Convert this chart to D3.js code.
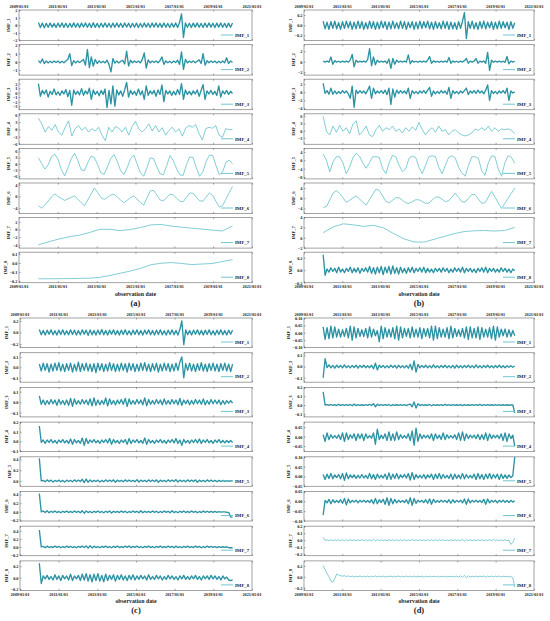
<!DOCTYPE html>
<html>
<head>
<meta charset="utf-8">
<script src="https://cdn.jsdelivr.net/npm/d3@7"></script>
<style>
  body { margin: 0; background: #fff; }
  text { font-family: "Liberation Serif", "Times New Roman", serif; font-weight: bold; fill: #222; }
</style>
</head>
<body>
<div id="chart"></div>
<script>
// x axis: date range of the decomposed series and the date ticks
const dataStart = new Date(2010, 0, 1);
const dataEnd = new Date(2019, 11, 31);
const axisYears = [2009, 2011, 2013, 2015, 2017, 2019, 2021];
const imfNames = ["IMF_1", "IMF_2", "IMF_3", "IMF_4", "IMF_5", "IMF_6", "IMF_7", "IMF_8"];
const panelTags = ["(a)", "(b)", "(c)", "(d)"];

// ---- panel (a) ----
const a1 = [0.35,-0.3,0.28,-0.32,0.25,-0.27,0.3,-0.25,0.22,-0.3,0.27,-0.24,0.3,-0.28,0.26,-0.3,0.24,-0.26,0.31,-0.27,0.25,-0.3,0.28,-0.23,0.3,-0.27,0.26,-0.3,0.33,-0.28,0.25,-0.3,0.27,-0.25,0.3,-0.26,0.24,-0.3,0.28,-0.27,0.3,-0.25,0.26,-0.28,0.3,-0.24,0.27,-0.3,0.25,-0.26,0.28,-0.3,0.24,-0.27,0.3,-0.25,0.26,-0.3,0.28,-0.24,0.3,-0.27,0.25,-0.28,0.3,-0.26,0.24,-0.3,0.27,-0.25,0.3,-0.28,0.35,1.5,-1.6,0.3,-0.27,0.26,-0.3,0.28,-0.25,0.3,-0.26,0.24,-0.3,0.28,-0.27,0.3,-0.25,0.26,-0.3,0.28,-0.24,0.3,-0.27,0.25,-0.3,0.28,-0.26,0.3];
const a2 = [0.15,-0.12,0.35,-0.2,0.1,-0.12,0.08,-0.1,0.12,-0.08,0.1,-0.12,0.08,-0.1,0.12,0.3,1.0,-0.45,0.15,-0.12,0.1,-0.08,0.12,0.3,-0.4,1.5,-0.7,0.6,-0.5,0.3,-0.2,0.12,-0.1,0.08,-0.12,0.2,-0.3,-1.2,0.4,-0.15,0.1,-0.12,0.08,0.2,-0.25,1.3,-0.5,0.2,-0.1,0.12,-0.08,0.1,-0.12,0.3,1.1,-0.75,0.25,-0.12,0.1,-0.08,0.12,-0.1,0.15,0.6,-0.3,0.12,-0.1,0.08,-0.12,0.1,-0.08,0.2,-0.3,1.2,-0.9,0.3,-0.12,0.1,-0.08,0.12,-0.1,0.08,0.25,-0.2,1.0,-0.4,0.15,-0.1,0.12,-0.08,0.1,-0.12,0.08,-0.1,0.12,-0.1,0.5,-0.2,0.1,-0.08];
const a3 = [2.0,-0.8,0.5,-0.3,0.6,-1.0,0.3,-0.4,0.8,-0.5,0.2,-0.6,0.4,-0.3,0.7,-0.9,0.5,-2.8,0.6,-0.4,0.3,-0.5,0.9,-0.6,0.4,-0.3,1.0,-1.5,0.6,-0.4,0.3,-0.7,0.5,-0.4,0.8,-3.3,0.5,-2.5,1.5,-3.0,0.6,-0.5,0.4,-0.8,0.6,2.3,-1.0,0.5,-0.4,0.3,-0.6,0.8,-0.5,0.4,-1.5,1.5,-0.6,0.4,-0.3,0.5,-0.8,0.6,-0.4,1.7,-2.0,0.5,-0.3,0.4,-0.6,0.3,-0.5,0.7,-0.4,2.0,-1.5,0.6,-0.4,0.3,-0.5,0.4,-0.3,0.6,-0.8,0.5,1.8,-1.5,0.4,-0.3,0.5,-0.4,0.3,-0.6,1.5,-1.0,0.4,-0.3,0.5,-0.4,0.3,-0.2];
const a4 = [4.7,2.3,-1.1,1.2,-0.4,2.0,-1.1,-2.4,0.9,3.6,-2.8,0.3,1.6,-0.4,0.9,-1.1,0.3,-0.7,0.9,-2.4,-4.7,0.9,-1.1,1.2,0.5,-1.1,0.9,-2.4,1.2,3.3,0.3,-1.1,0.3,2.3,-0.7,1.6,-1.1,0.7,-2.4,-0.4,0.9,-1.1,0.3,-2.8,0.5,1.6,0.9,2.0,-1.7,-4.4,0.3,0.9,0.5,1.6,-2.4,-3.3,0.3,-0.1,-0.1];
const a5 = [2.9,0.0,-2.7,-0.5,3.5,4.7,2.0,-3.0,-6.0,-2.0,2.5,5.1,1.5,-3.0,-3.5,0.5,3.7,3.0,-0.5,-4.5,-5.3,-1.5,2.5,4.5,1.0,-3.5,-5.4,-2.0,2.5,4.2,0.0,-4.5,-6.2,-2.0,2.9,2.5,-1.5,-5.0,-5.5,-1.0,4.0,1.5,-2.5,-5.5,-5.8,-0.5,3.3,3.0,-2.0,-6.2,-4.0,1.0,4.2,4.0,-1.0,-5.5,-4.0,0.5,1.8,0.0];
const a6 = [-3.2,-3.9,-2.9,-1.5,-0.1,0.85,0.0,-0.7,-1.35,-0.8,-0.3,0.2,-0.9,-2.1,-3.2,-1.2,0.8,2.9,1.4,-0.3,-1.0,-0.3,0.5,0.7,-0.2,-1.2,-2.1,-1.3,-0.4,0.2,-0.9,-2.1,-2.95,-0.5,1.9,2.1,0.5,-1.2,-1.5,-0.4,0.8,0.5,-0.6,-1.6,-1.8,-0.3,1.2,1.05,-0.2,-1.5,-1.6,-0.2,1.2,0.3,-1.7,-3.6,-3.1,-0.9,1.3,3.4];
const a7 = [-4.0,-3.2,-2.5,-1.9,-1.5,-0.8,0.05,0.05,-0.3,0.0,0.5,1.2,1.3,0.9,0.6,0.35,0.1,-0.15,-0.4,0.9];
const a8 = [-0.177,-0.176,-0.175,-0.174,-0.172,-0.17,-0.16,-0.14,-0.115,-0.09,-0.06,-0.02,-0.003,0.004,-0.005,-0.018,-0.012,-0.006,0.015,0.038];

// ---- panel (b) ----
const b1 = [0.08,-0.07,0.06,-0.08,0.07,-0.06,0.08,-0.07,0.05,-0.08,0.07,-0.06,0.08,-0.05,0.07,-0.08,0.06,-0.07,0.08,-0.06,0.07,-0.08,0.05,-0.07,0.08,-0.06,0.07,-0.08,0.06,-0.07,0.08,-0.05,0.07,-0.08,0.06,-0.07,0.08,-0.06,0.05,-0.07,0.08,-0.06,0.07,-0.08,0.06,-0.05,0.07,-0.08,0.06,-0.07,0.08,-0.06,0.07,-0.05,0.08,-0.07,0.06,-0.08,0.07,-0.06,0.05,-0.07,0.08,-0.06,0.07,-0.08,0.06,-0.07,0.05,-0.08,0.07,-0.06,0.08,0.25,-0.26,0.07,-0.06,0.08,-0.07,0.05,-0.08,0.07,-0.06,0.08,-0.07,0.06,-0.05,0.07,-0.08,0.06,-0.07,0.08,-0.06,0.07,-0.05,0.06,-0.08,0.07,-0.06,0.05];
const b2 = [0.1,-0.08,0.12,-0.1,0.9,-0.5,0.2,-0.1,0.08,-0.12,0.1,-0.08,0.12,-0.1,0.3,1.4,-1.0,0.3,-0.12,0.1,-0.08,0.12,-0.1,0.4,2.5,-0.8,0.9,-0.6,0.3,-0.12,0.1,-0.08,0.12,-0.3,0.5,-1.3,0.6,-0.5,0.3,-0.12,0.1,-0.08,0.12,-0.1,1.3,-0.4,0.2,-0.1,0.08,-0.12,0.1,-0.08,0.12,-0.1,0.3,1.0,-0.3,0.15,-0.1,0.08,-0.12,0.1,-0.08,0.12,-0.1,0.8,-0.3,0.12,-0.1,0.08,-0.12,0.1,-0.08,0.2,0.6,-0.3,0.1,-0.08,0.12,0.6,-0.3,0.1,-0.08,0.12,-0.3,1.8,-1.7,0.3,-0.12,0.1,-0.08,0.12,-0.1,0.08,-0.12,1.0,-0.4,0.12,-0.1,0.08];
const b3 = [2.2,-0.3,0.4,-0.5,1.0,-0.5,0.3,-0.4,0.2,-0.3,0.4,-0.2,0.3,-0.4,-1.5,1.5,-3.7,0.5,-0.3,0.4,-0.2,0.3,-0.4,0.5,1.5,-1.5,1.0,-0.4,0.3,-0.2,0.4,-0.3,0.5,-0.6,1.0,-3.0,0.8,-1.2,0.5,-0.3,0.4,-0.2,0.3,-0.4,1.0,-1.5,0.4,-0.3,0.2,-0.4,0.3,-0.2,0.4,-0.3,0.5,1.2,-1.0,0.3,-0.4,0.2,-0.3,0.4,-0.2,0.3,-0.5,1.2,-1.5,0.4,-0.3,0.2,-0.4,0.3,-0.2,0.4,1.0,-0.6,0.3,-0.2,0.4,-0.3,0.5,-0.2,0.3,-0.4,0.5,1.8,-2.0,0.4,-0.3,0.2,-0.4,0.3,-0.2,0.4,-0.3,1.0,-2.0,0.3,-0.2,0.1];
const b4 = [6.0,-0.3,-1.8,1.9,-0.7,2.2,-0.3,1.2,-1.3,2.6,4.1,-1.8,-0.3,1.9,-1.8,-2.5,0.4,2.2,-0.3,1.2,0.4,1.9,-0.3,0.7,-1.0,1.2,-0.3,1.6,0.1,3.4,0.4,-1.8,0.1,1.2,-0.7,1.9,-0.3,0.4,-1.8,-0.3,0.4,-1.0,-1.8,-2.2,-1.8,-1.0,0.7,0.0,1.2,0.1,1.9,-0.3,1.2,-0.3,0.7,0.4,0.7,0.2,-1.3];
const b5 = [3.1,0.0,-5.5,-0.7,1.7,1.7,-1.2,-6.4,-3.3,1.2,3.4,2.0,-1.2,-3.8,-1.2,1.7,1.7,1.4,-4.0,-6.4,-1.2,2.4,1.7,-2.4,-5.5,-4.1,1.0,2.0,1.4,-3.3,-6.4,-2.4,1.7,2.2,1.7,-3.3,-6.4,-2.4,1.4,2.2,1.0,-3.3,-6.0,-7.6,-2.4,1.7,1.7,1.0,-5.0,-7.2,-1.2,2.2,1.7,-4.1,-7.6,-1.2,2.2,1.4,-1.4];
const b6 = [-3.6,-3.3,-0.7,2.0,3.0,1.9,0.2,-1.6,-0.8,0.1,0.9,-0.3,-1.5,-2.7,-0.6,1.5,3.6,3.1,0.9,-1.2,-1.8,-0.8,0.2,0.2,-0.8,-1.8,-2.0,-1.3,-0.6,-0.6,-1.3,-2.0,-1.9,-0.7,0.4,0.5,-0.4,-1.3,-1.0,0.5,2.0,0.3,-1.4,-1.5,0.0,1.5,1.4,-0.3,-2.0,-1.8,0.5,2.7,0.5,-1.8,-4.0,-2.0,0.0,2.0,4.0];
const b7 = [1.0,2.1,2.7,2.5,2.2,2.4,1.9,0.8,-0.2,-0.8,-0.85,-0.3,0.25,0.8,1.2,1.35,1.4,1.3,1.4,2.0];
const b8 = [0.25,-0.08,0.02,-0.03,0.04,-0.02,0.03,-0.04,0.05,-0.03,0.02,-0.04,0.03,-0.02,0.05,-0.04,0.03,-0.03,0.04,-0.05,0.03,-0.02,0.04,-0.03,0.06,-0.05,0.04,-0.06,0.05,-0.04,0.06,-0.07,0.05,-0.04,0.06,-0.06,0.07,-0.05,0.04,-0.06,0.05,-0.04,0.03,-0.05,0.04,-0.03,0.05,-0.04,0.03,-0.02,0.04,-0.03,0.05,-0.04,0.03,-0.03,0.02,-0.04,0.03,-0.02,0.03,-0.03,0.04,-0.02,0.03,-0.04,0.02,-0.03,0.04,-0.02,0.03,-0.03,0.05,-0.04,0.03,-0.02,0.03,-0.03,0.02,-0.04,0.03,-0.02,0.04,-0.03,0.05,-0.04,0.03,-0.02,0.03,-0.03,0.02,-0.03,0.04,-0.02,0.03,-0.03,0.02,-0.04,0.02,-0.01];

// ---- panel (c) ----
const c1 = [0.05,-0.04,0.035,-0.045,0.04,-0.03,0.045,-0.04,0.03,-0.045,0.04,-0.035,0.045,-0.04,0.03,-0.04,0.045,-0.035,0.04,-0.045,0.035,-0.04,0.045,-0.03,0.04,-0.05,0.045,-0.04,0.035,-0.045,0.04,-0.035,0.05,-0.04,0.035,-0.045,0.04,-0.03,0.045,-0.04,0.035,-0.045,0.04,-0.035,0.045,-0.04,0.03,-0.045,0.04,-0.035,0.045,-0.04,0.035,-0.045,0.04,-0.03,0.045,-0.04,0.035,-0.045,0.04,-0.035,0.045,-0.04,0.03,-0.045,0.04,-0.035,0.045,-0.04,0.035,-0.045,0.05,0.2,-0.21,0.045,-0.04,0.035,-0.045,0.04,-0.03,0.045,-0.04,0.035,-0.045,0.04,-0.035,0.045,-0.04,0.03,-0.045,0.04,-0.035,0.045,-0.04,0.035,-0.045,0.04,-0.03,0.04];
const c2 = [0.03,-0.035,0.04,-0.03,0.035,-0.045,0.03,-0.035,0.04,-0.03,0.045,-0.035,0.03,-0.04,0.035,-0.03,0.04,-0.045,0.03,-0.035,0.05,-0.04,0.035,-0.03,0.04,-0.035,0.03,-0.04,0.035,-0.05,0.04,-0.03,0.035,-0.04,0.03,-0.035,0.045,-0.03,0.035,-0.04,0.03,-0.035,0.04,-0.03,0.035,-0.045,0.04,-0.03,0.035,-0.04,0.03,-0.035,0.04,-0.03,0.045,-0.035,0.03,-0.04,0.035,-0.03,0.04,-0.045,0.03,-0.035,0.04,-0.03,0.035,-0.04,0.03,-0.035,0.04,-0.03,0.05,0.1,-0.1,0.035,-0.03,0.04,-0.035,0.03,-0.04,0.035,-0.03,0.045,-0.035,0.03,-0.04,0.035,-0.03,0.04,-0.035,0.03,-0.04,0.035,-0.03,0.04,-0.035,0.03,-0.04,0.03];
const c3 = [0.06,-0.02,0.02,-0.025,0.015,-0.02,0.025,-0.015,0.02,-0.03,0.025,-0.02,0.015,-0.025,0.02,-0.03,0.035,-0.04,0.03,-0.02,0.015,-0.02,0.025,-0.015,0.02,-0.025,0.03,-0.035,0.04,-0.03,0.02,-0.025,0.015,-0.02,0.04,-0.035,0.03,-0.02,0.015,-0.025,0.02,-0.015,0.025,-0.02,0.035,-0.04,0.03,-0.02,0.015,-0.02,0.025,-0.015,0.02,-0.025,0.04,-0.035,0.025,-0.02,0.015,-0.02,0.025,-0.015,0.02,-0.025,0.03,-0.02,0.015,-0.02,0.025,-0.015,0.02,-0.025,0.035,-0.03,0.02,-0.015,0.02,-0.025,0.015,-0.02,0.025,-0.015,0.02,-0.02,0.03,-0.025,0.015,-0.02,0.025,-0.015,0.02,-0.015,0.02,-0.025,0.015,-0.02,0.015,-0.01,0.015,-0.01];
const c4 = [0.16,-0.01,0.015,-0.02,0.015,-0.01,0.02,-0.015,0.01,-0.02,0.015,-0.01,0.02,-0.015,0.01,-0.02,0.025,-0.03,0.02,-0.015,0.01,-0.02,0.035,-0.04,0.03,-0.02,0.015,-0.01,0.02,-0.015,0.01,-0.02,0.015,-0.01,0.02,-0.015,0.03,-0.03,0.02,-0.015,0.01,-0.02,0.015,-0.01,0.02,-0.03,0.03,-0.02,0.015,-0.01,0.02,-0.015,0.01,-0.02,0.035,-0.03,0.02,-0.015,0.01,-0.02,0.015,-0.01,0.02,-0.015,0.01,-0.02,0.015,-0.01,0.02,-0.015,0.03,-0.02,0.015,-0.04,0.02,-0.015,0.01,-0.02,0.015,-0.01,0.02,-0.015,0.025,-0.02,0.015,-0.01,0.02,-0.015,0.01,-0.02,0.015,-0.01,0.02,-0.015,0.01,-0.015,0.01,-0.01,0.01,-0.01];
const c5 = [0.42,0.0,0.01,-0.015,0.02,-0.01,0.015,-0.02,0.01,-0.01,0.015,-0.015,0.01,-0.02,0.015,-0.01,0.01,-0.015,0.02,-0.01,0.015,-0.01,0.03,-0.03,0.035,-0.025,0.02,-0.015,0.01,-0.01,0.015,-0.02,0.01,-0.015,0.02,-0.01,0.015,-0.01,0.02,-0.025,0.015,-0.01,0.01,-0.015,0.02,-0.01,0.015,-0.01,0.01,-0.015,0.025,-0.02,0.015,-0.01,0.01,-0.015,0.02,-0.01,0.015,-0.01,0.02,-0.025,0.015,-0.01,0.01,-0.015,0.02,-0.01,0.015,-0.01,0.025,-0.02,0.015,-0.01,0.01,-0.015,0.02,-0.01,0.015,-0.01,0.02,-0.025,0.015,-0.01,0.01,-0.015,0.02,-0.01,0.015,-0.01,0.01,-0.015,0.01,-0.01,0.01,-0.01,0.005,-0.01,0.005,-0.005];
const c6 = [0.42,0.0,0.02,-0.015,0.025,-0.02,0.015,-0.01,0.02,-0.015,0.01,-0.02,0.015,-0.01,0.02,-0.015,0.01,-0.015,0.02,-0.01,0.015,-0.02,0.025,-0.03,0.02,-0.015,0.01,-0.02,0.015,-0.01,0.02,-0.015,0.01,-0.02,0.015,-0.01,0.02,-0.025,0.015,-0.01,0.01,-0.015,0.02,-0.01,0.015,-0.02,0.01,-0.015,0.02,-0.01,0.015,-0.02,0.025,-0.02,0.015,-0.01,0.01,-0.015,0.02,-0.01,0.015,-0.02,0.01,-0.015,0.02,-0.01,0.015,-0.02,0.025,-0.015,0.01,-0.02,0.015,-0.01,0.02,-0.015,0.01,-0.015,0.02,-0.01,0.015,-0.02,0.01,-0.015,0.02,-0.01,0.015,-0.01,0.01,-0.01,0.01,-0.01,0.005,-0.005,0.0,0.0,-0.01,-0.01,-0.12,-0.12];
const c7 = [0.42,0.0,0.015,-0.02,0.02,-0.015,0.01,-0.015,0.02,-0.01,0.015,-0.02,0.01,-0.015,0.02,-0.01,0.015,-0.015,0.01,-0.02,0.015,-0.01,0.02,-0.015,0.025,-0.03,0.03,-0.025,0.02,-0.015,0.01,-0.02,0.015,-0.01,0.02,-0.015,0.01,-0.02,0.015,-0.01,0.02,-0.015,0.01,-0.015,0.02,-0.01,0.025,-0.02,0.015,-0.01,0.02,-0.015,0.01,-0.02,0.015,-0.01,0.02,-0.015,0.01,-0.02,0.015,-0.01,0.02,-0.015,0.01,-0.015,0.02,-0.01,0.015,-0.02,0.02,-0.015,0.01,-0.02,0.015,-0.01,0.02,-0.015,0.01,-0.015,0.02,-0.01,0.015,-0.02,0.01,-0.015,0.02,-0.01,0.015,-0.01,0.01,-0.015,0.01,-0.01,0.005,-0.01,0.005,-0.02,-0.02,-0.02];
const c8 = [0.25,-0.1,0.03,-0.02,0.04,-0.03,0.02,-0.04,0.05,-0.03,0.03,-0.05,0.04,-0.02,0.03,-0.04,0.06,-0.05,0.03,-0.02,0.04,-0.05,0.06,-0.04,0.07,-0.06,0.05,-0.07,0.06,-0.05,0.07,-0.06,0.04,-0.07,0.06,-0.05,0.04,-0.03,0.05,-0.06,0.04,-0.03,0.05,-0.04,0.03,-0.05,0.04,-0.03,0.05,-0.04,0.03,-0.03,0.04,-0.02,0.03,-0.04,0.05,-0.03,0.02,-0.03,0.04,-0.02,0.03,-0.04,0.02,-0.03,0.04,-0.02,0.03,-0.03,0.02,-0.04,0.03,-0.02,0.04,-0.03,0.02,-0.03,0.03,-0.02,0.04,-0.03,0.02,-0.04,0.03,-0.02,0.03,-0.03,0.04,-0.02,0.03,-0.03,0.02,-0.04,0.03,-0.02,0.01,-0.04,-0.05,-0.04];

// ---- panel (d) ----
const d1 = [0.04,-0.045,0.035,-0.04,0.045,-0.035,0.04,-0.03,0.025,-0.03,0.02,-0.025,0.03,-0.035,0.045,-0.05,0.04,-0.035,0.03,-0.025,0.02,-0.025,0.03,-0.035,0.04,-0.03,0.025,-0.02,0.015,-0.06,0.045,-0.04,0.035,-0.03,0.025,-0.03,0.035,-0.04,0.045,-0.05,0.04,-0.035,0.03,-0.025,0.03,-0.035,0.04,-0.03,0.025,-0.03,0.035,-0.04,0.03,-0.025,0.03,-0.035,0.045,-0.05,0.045,-0.04,0.035,-0.03,0.025,-0.03,0.035,-0.04,0.045,-0.035,0.03,-0.025,0.02,-0.025,0.03,-0.035,0.04,-0.045,0.04,-0.035,0.03,-0.035,0.04,-0.045,0.035,-0.03,0.025,-0.03,0.035,-0.04,0.045,-0.05,0.04,-0.03,0.025,-0.02,0.025,-0.03,0.02,-0.025,0.015,-0.02];
const d2 = [-0.1,0.07,-0.01,0.015,-0.012,0.01,-0.015,0.012,-0.008,0.01,-0.012,0.015,-0.01,0.008,-0.012,0.01,-0.008,0.012,-0.015,0.01,-0.008,0.012,-0.01,0.008,-0.01,0.012,-0.02,0.03,-0.03,0.012,-0.008,0.01,-0.012,0.008,-0.01,0.012,-0.008,0.01,-0.015,0.012,-0.01,0.008,-0.012,0.01,-0.015,0.02,-0.03,0.05,-0.05,0.02,-0.012,0.01,-0.008,0.012,-0.01,0.008,-0.012,0.015,-0.01,0.008,-0.012,0.01,-0.008,0.012,-0.01,0.008,-0.012,0.01,-0.015,0.012,-0.01,0.008,-0.012,0.01,-0.008,0.012,-0.01,0.008,-0.012,0.015,-0.01,0.008,-0.012,0.01,-0.008,0.012,-0.01,0.008,-0.012,0.01,-0.008,0.012,-0.01,0.008,-0.01,0.008,-0.006,0.008,-0.006,0.005];
const d3v = [0.15,0.0,0.005,-0.004,0.006,-0.005,0.004,-0.006,0.008,-0.005,0.004,-0.003,0.005,-0.004,0.006,-0.008,0.01,-0.006,0.004,-0.005,0.003,-0.004,0.005,-0.004,0.006,-0.005,0.015,-0.02,0.01,-0.005,0.004,-0.003,0.005,-0.004,0.006,-0.008,0.005,-0.004,0.003,-0.005,0.004,-0.003,0.005,-0.006,0.004,0.01,-0.02,0.035,-0.035,0.015,-0.006,0.004,-0.005,0.003,-0.004,0.006,-0.008,0.005,-0.004,0.003,-0.005,0.004,-0.006,0.008,-0.005,0.004,-0.003,0.005,-0.004,0.003,-0.005,0.004,-0.006,0.005,-0.004,0.003,-0.005,0.004,-0.003,0.005,-0.004,0.008,-0.006,0.004,-0.003,0.005,-0.004,0.003,-0.005,0.004,-0.003,0.005,-0.004,0.003,-0.004,0.003,-0.003,0.002,0.0,-0.09];
const d4 = [0.01,-0.025,0.02,-0.015,0.01,-0.008,0.006,-0.008,0.01,-0.015,0.02,-0.025,0.02,-0.015,0.01,-0.008,0.015,-0.02,0.015,-0.01,0.015,-0.02,0.015,-0.008,0.006,-0.008,0.02,-0.04,0.04,-0.015,0.008,-0.01,0.015,-0.02,0.025,-0.02,0.015,-0.02,0.025,-0.015,0.01,-0.008,0.006,-0.008,0.015,-0.02,0.03,-0.045,0.045,-0.025,0.015,-0.01,0.008,-0.006,0.008,-0.01,0.015,-0.02,0.015,-0.01,0.008,-0.015,0.02,-0.015,0.01,-0.008,0.006,-0.008,0.01,-0.015,0.02,-0.02,0.025,-0.02,0.015,-0.01,0.008,-0.006,0.008,-0.01,0.012,-0.015,0.01,-0.015,0.02,-0.02,0.015,-0.01,0.008,-0.006,0.008,-0.01,0.015,-0.02,0.02,-0.025,0.015,-0.01,0.008,-0.05];
const d5 = [0.01,-0.015,0.012,-0.01,0.015,-0.012,0.008,-0.006,0.01,-0.012,0.015,-0.02,0.018,-0.012,0.008,-0.006,0.008,-0.01,0.006,-0.008,0.01,-0.008,0.006,-0.01,0.015,-0.012,0.01,-0.015,0.012,-0.008,0.006,-0.008,0.012,-0.015,0.018,-0.015,0.012,-0.01,0.015,-0.012,0.008,-0.006,0.01,-0.008,0.015,-0.018,0.02,-0.015,0.01,-0.008,0.006,-0.008,0.01,-0.012,0.008,-0.006,0.012,-0.015,0.012,-0.01,0.015,-0.012,0.01,-0.008,0.006,-0.01,0.012,-0.015,0.012,-0.01,0.008,-0.012,0.015,-0.012,0.01,-0.008,0.006,-0.008,0.012,-0.015,0.015,-0.012,0.01,-0.015,0.012,-0.01,0.015,-0.012,0.01,-0.008,0.012,-0.015,0.012,-0.01,0.008,-0.01,0.008,-0.006,0.004,0.1];
const d6 = [-0.07,0.005,-0.008,0.01,-0.012,0.008,-0.006,0.004,-0.006,0.008,-0.01,0.015,-0.018,0.012,-0.008,0.005,-0.004,0.006,-0.008,0.005,-0.004,0.006,-0.005,0.004,-0.006,0.008,-0.012,0.015,-0.012,0.008,-0.006,0.01,-0.015,0.018,-0.02,0.015,-0.012,0.01,-0.008,0.006,-0.005,0.004,-0.006,0.008,-0.012,0.018,-0.02,0.015,-0.01,0.006,-0.004,0.005,-0.006,0.008,-0.01,0.012,-0.015,0.01,-0.006,0.004,-0.005,0.006,-0.004,0.005,-0.006,0.008,-0.01,0.008,-0.006,0.005,-0.004,0.006,-0.008,0.012,-0.015,0.012,-0.008,0.005,-0.004,0.006,-0.005,0.004,-0.006,0.01,-0.015,0.012,-0.008,0.005,-0.004,0.006,-0.008,0.005,-0.004,0.006,-0.005,0.004,-0.006,0.005,-0.004,0.003];
const d7 = [0.04,-0.004,0.008,-0.006,0.007,-0.008,0.006,-0.007,0.008,-0.006,0.007,-0.008,0.006,-0.007,0.008,-0.006,0.007,-0.008,0.006,-0.007,0.008,-0.006,0.007,-0.008,0.006,-0.007,0.012,-0.01,0.008,-0.006,0.007,-0.008,0.006,-0.007,0.008,-0.006,0.007,-0.008,0.006,-0.007,0.008,-0.006,0.007,-0.008,0.006,-0.01,0.012,-0.007,0.008,-0.006,0.007,-0.008,0.006,-0.007,0.008,-0.006,0.007,-0.008,0.006,-0.007,0.008,-0.006,0.007,-0.008,0.006,-0.007,0.008,-0.006,0.007,-0.008,0.006,-0.007,0.015,-0.015,0.008,-0.006,0.007,-0.008,0.006,-0.007,0.008,-0.006,0.007,-0.008,0.006,-0.007,0.008,-0.006,0.012,-0.01,0.007,-0.008,0.006,-0.007,0.008,-0.006,0.0,-0.06,-0.03,0.03];
const d8 = [0.2,0.13,0.06,0.0,-0.08,-0.1,-0.04,0.05,0.03,0.02,0.01,0.02,0.005,0.015,0.0,0.012,-0.005,0.01,0.0,0.015,-0.005,0.01,0.0,0.012,-0.005,0.01,0.0,0.015,-0.005,0.01,-0.002,0.012,-0.005,0.01,0.0,0.012,-0.005,0.01,0.0,0.015,-0.005,0.01,0.0,0.012,-0.005,0.01,-0.002,0.012,-0.005,0.01,0.0,0.012,-0.005,0.01,0.0,0.01,-0.004,0.01,-0.002,0.01,-0.004,0.008,-0.002,0.01,-0.004,0.008,-0.002,0.01,-0.004,0.01,-0.005,0.015,-0.01,0.025,-0.02,0.015,-0.005,0.01,0.0,0.012,-0.005,0.01,0.0,0.015,-0.008,0.01,0.0,0.012,-0.005,0.01,0.0,0.012,-0.005,0.01,0.0,0.01,-0.004,0.005,-0.02,-0.19];

// y ranges and tick labels of every subplot
const aDomains = [[-2,2],[-1.6,2.1],[-3.8,3],[-6.2,6.5],[-7.5,7.5],[-5.8,4.6],[-4.85,3.1],[-0.22,0.12]];
const aTicks = [[-2,-1,0,1,2],[-1,0,1,2],[-3,-2,-1,0,1,2],[-6,-3,0,3,6],[-6,-3,0,3,6],[-4,0,4],[-4,-2,0,2],[-0.2,-0.1,0,0.1]];
const bDomains = [[-0.3,0.3],[-2.6,3.3],[-4.3,3.2],[-5.7,7],[-8.9,5.7],[-6,6],[-2,3.9],[-0.2,0.29]];
const bTicks = [[-0.2,0,0.2],[-2,0,2],[-4,-2,0,2],[-3,0,3,6],[-8,-4,0,4],[-4,0,4],[-2,0,2,4],[-0.2,0,0.2]];
const cDomains = [[-0.26,0.25],[-0.143,0.14],[-0.14,0.14],[-0.105,0.2],[-0.1,0.45],[-0.21,0.47],[-0.22,0.52],[-0.22,0.29]];
const cTicks = [[-0.2,0,0.2],[-0.1,0,0.1],[-0.1,0,0.1],[-0.1,0,0.1,0.2],[0,0.2,0.4],[-0.2,0,0.2,0.4],[-0.2,0,0.2,0.4],[-0.2,0,0.2]];
const dDomains = [[-0.1,0.1],[-0.14,0.124],[-0.135,0.2],[-0.079,0.077],[-0.05,0.1],[-0.1,0.05],[-0.22,0.2],[-0.25,0.29]];
const dTicks = [[-0.1,-0.05,0,0.05,0.1],[-0.1,0,0.1],[-0.1,0,0.1,0.2],[-0.05,0,0.05],[-0.05,0,0.05,0.1],[-0.1,-0.05,0,0.05],[-0.2,-0.1,0,0.1,0.2],[-0.2,0,0.2]];
const aFormats = ["d","d","d","d","d","d","d",".1f"];
const bFormats = [".1f","d","d","d","d","d","d",".1f"];
const cFormats = [".1f",".1f",".1f",".1f",".1f",".1f",".1f",".1f"];
const dFormats = [".2f",".1f",".1f",".2f",".2f",".2f",".1f",".1f"];

// panel placement on the page; "dense" marks the busy, darker-looking signals
const panels = [
  { x0: 19, x1: 252, top: 10, pitch: 34.6, h: 30.5, series: [a1,a2,a3,a4,a5,a6,a7,a8], domains: aDomains, ticks: aTicks, formats: aFormats, dense: [1,1,1,0,0,0,0,0] },
  { x0: 304, x1: 534, top: 10, pitch: 34.6, h: 30.5, series: [b1,b2,b3,b4,b5,b6,b7,b8], domains: bDomains, ticks: bTicks, formats: bFormats, dense: [1,1,1,0,0,0,0,1] },
  { x0: 20, x1: 252, top: 318, pitch: 34.7, h: 29.5, series: [c1,c2,c3,c4,c5,c6,c7,c8], domains: cDomains, ticks: cTicks, formats: cFormats, dense: [1,1,1,1,1,1,1,1] },
  { x0: 304, x1: 534, top: 318, pitch: 34.7, h: 29.5, series: [d1,d2,d3v,d4,d5,d6,d7,d8], domains: dDomains, ticks: dTicks, formats: dFormats, dense: [1,1,1,1,1,1,0,0] }
];

const denseColor = "#2b93a3";
const lightColor = "#62c0cb";
const frameColor = "#8c8c8c";

const svg = d3.select("#chart").append("svg")
  .attr("width", 550)
  .attr("height", 621);

const tickDates = axisYears.map(yr => new Date(yr, 0, 1));

panels.forEach((p, pi) => {
  const x = d3.scaleTime()
    .domain([new Date(2009, 0, 1), new Date(2021, 0, 1)])
    .range([p.x0, p.x1]);

  p.series.forEach((vals, k) => {
    const y0 = p.top + k * p.pitch;
    const y1 = y0 + p.h;
    const y = d3.scaleLinear().domain(p.domains[k]).range([y1, y0]);
    const when = d3.scaleLinear().domain([0, vals.length - 1]).range([dataStart, dataEnd]);
    const g = svg.append("g");

    // clip the signal to its box
    const cid = "clip" + pi + "_" + k;
    svg.append("clipPath").attr("id", cid)
      .append("rect")
      .attr("x", p.x0).attr("y", y0)
      .attr("width", p.x1 - p.x0).attr("height", p.h);

    const line = d3.line()
      .x((d, i) => x(when(i)))
      .y(d => y(d));

    const dense = p.dense[k] === 1;
    g.append("path")
      .datum(vals)
      .attr("clip-path", "url(#" + cid + ")")
      .attr("d", line)
      .attr("fill", "none")
      .attr("stroke", dense ? denseColor : lightColor)
      .attr("stroke-width", dense ? 1.35 : 0.8)
      .attr("stroke-linejoin", "round");

    // frame
    g.append("rect")
      .attr("x", p.x0).attr("y", y0)
      .attr("width", p.x1 - p.x0).attr("height", p.h)
      .attr("fill", "none")
      .attr("stroke", frameColor)
      .attr("stroke-width", 0.8);

    // inward date ticks on top and bottom edges
    const bottomTicks = g.append("g")
      .attr("transform", `translate(0,${y1})`)
      .call(d3.axisTop(x).tickValues(tickDates).tickSize(1.6).tickFormat(""));
    const topTicks = g.append("g")
      .attr("transform", `translate(0,${y0})`)
      .call(d3.axisBottom(x).tickValues(tickDates).tickSize(1.6).tickFormat(""));
    [bottomTicks, topTicks].forEach(t => {
      t.select(".domain").remove();
      t.selectAll("line").attr("stroke", "#555").attr("stroke-width", 0.5);
    });

    // y axis
    const ya = g.append("g")
      .attr("transform", `translate(${p.x0},0)`)
      .call(d3.axisLeft(y)
        .tickValues(p.ticks[k])
        .tickSize(-1.6)
        .tickPadding(1.5)
        .tickFormat(d3.format(p.formats[k])));
    ya.attr("font-size", null).attr("font-family", null);
    ya.select(".domain").remove();
    ya.selectAll("line").attr("stroke", "#555").attr("stroke-width", 0.5);
    ya.selectAll("text").attr("font-size", 4.3).attr("fill", "#222");
    const tickW = d3.max(ya.selectAll("text").nodes(), n => n.getComputedTextLength());

    // y label
    g.append("text")
      .attr("transform", `translate(${p.x0 - tickW - 4},${(y0 + y1) / 2}) rotate(-90)`)
      .attr("text-anchor", "middle")
      .attr("font-size", 4.6)
      .text(imfNames[k]);

    // legend
    const ly = y1 - 5.5;
    g.append("line")
      .attr("x1", p.x1 - 31).attr("x2", p.x1 - 19)
      .attr("y1", ly).attr("y2", ly)
      .attr("stroke", lightColor)
      .attr("stroke-width", 0.9);
    g.append("text")
      .attr("x", p.x1 - 17)
      .attr("y", ly + 1.7)
      .attr("font-size", 4.8)
      .text(imfNames[k]);

    // date labels above the first and below the last subplot
    if (k === 0 || k === p.series.length - 1) {
      const ty = k === 0 ? y0 - 2.5 : y1 + 5.5;
      svg.append("g").selectAll("text")
        .data(tickDates)
        .join("text")
        .attr("x", d => x(d))
        .attr("y", ty)
        .attr("text-anchor", "middle")
        .attr("font-size", 4.2)
        .text(d3.timeFormat("%Y/%m/%d"));
    }
    if (k === p.series.length - 1) {
      const cx = (p.x0 + p.x1) / 2;
      svg.append("text")
        .attr("x", cx).attr("y", y1 + 13)
        .attr("text-anchor", "middle")
        .attr("font-size", 5.8)
        .text("observation date");
      svg.append("text")
        .attr("x", cx).attr("y", y1 + 23)
        .attr("text-anchor", "middle")
        .attr("font-size", 8.5)
        .text(panelTags[pi]);
    }
  });
});
</script>
</body>
</html>
